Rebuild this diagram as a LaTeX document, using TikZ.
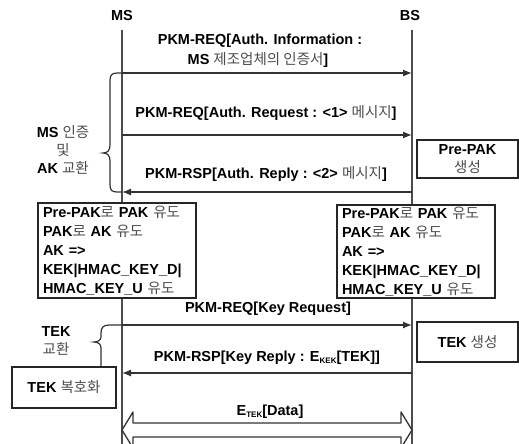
\documentclass[tikz,border=0pt]{standalone}
\usepackage{fontspec}
\setmainfont{Liberation Sans}
\newfontfamily\krfont{Noto Sans CJK KR}
\newcommand{\hg}[1]{{\krfont\mdseries\color{black!70}#1}}
\newcommand{\lowtxt}[1]{\raisebox{-1.5pt}{\fontsize{8}{8}\selectfont #1}}
\usetikzlibrary{arrows.meta}
\begin{document}
\begin{tikzpicture}[x=1pt,y=-1pt,
  font=\fontsize{14.5}{17}\selectfont\bfseries,
  life/.style={draw=black!70,line width=1.8pt},
  msg/.style={draw=black!80,line width=1.3pt,-{Latex[length=9pt,width=7pt]}},
  box/.style={draw=black!85,line width=1.5pt,fill=white},
  lbl/.style={inner sep=0pt,anchor=center},
  brace/.style={draw=black!80,line width=1.2pt}]
\useasboundingbox (0,0) rectangle (519,444);
\clip (0,0) rectangle (519,444);
% headers and lifelines
\node[lbl] (ms) at (122,16) {MS};
\node[lbl] (bs) at (410,16) {BS};
\coordinate (mstop) at (122,30);
\coordinate (msbot) at (122,444);
\coordinate (bstop) at (412,30);
\coordinate (bsbot) at (412,444);
\draw[life] (mstop) -- (msbot);
\draw[life] (bstop) -- (bsbot);
% message 1
\coordinate (a1) at (122,73); \coordinate (b1) at (412,73);
\draw[msg] (a1) -- (b1);
\node[lbl] (t1a) at (260,41) {PKM-REQ[Auth. Information :};
\node[lbl] (t1b) at (258,60) {MS \hg{제조업체의 인증서}]};
% message 2
\coordinate (a2) at (122,135); \coordinate (b2) at (412,135);
\draw[msg] (a2) -- (b2);
\node[lbl] (t2) at (266,113) {PKM-REQ[Auth. Request : <1> \hg{메시지}]};
% message 3
\coordinate (a3) at (122,192); \coordinate (b3) at (412,192);
\draw[msg] (b3) -- (a3);
\node[lbl] (t3) at (266,174) {PKM-RSP[Auth. Reply : <2> \hg{메시지}]};
% brace 1
\draw[brace] (a1) -- (117,73) .. controls (111,73) and (110,76) .. (110,81)
  -- (110,145) .. controls (110,151) and (107,153) .. (103,153)
  .. controls (107,153) and (110,155) .. (110,161)
  -- (110,185) .. controls (110,190) and (112,192) .. (117,192) -- (a3);
\node[lbl,align=center] (auth) at (63,150) {MS \hg{인증}\\[1pt]\hg{및}\\[1pt]AK \hg{교환}};
% Pre-PAK box
\node[box,minimum width=101pt,minimum height=38pt,align=center,inner sep=0pt] (prepak) at (467.5,159) {Pre-PAK\\[1pt]\hg{생성}};
% derivation boxes
\node[box,minimum width=158pt,minimum height=95pt,align=left,inner sep=0pt,text width=148pt] (lbox) at (117,250.5)
 {Pre-PAK\hg{로} PAK \hg{유도}\\[2pt]PAK\hg{로} AK \hg{유도}\\[2pt]AK =>\\[2pt]KEK|HMAC\_KEY\_D|\\[2pt]HMAC\_KEY\_U \hg{유도}};
\node[box,minimum width=158pt,minimum height=93pt,align=left,inner sep=0pt,text width=148pt] (rbox) at (416,251.5)
 {Pre-PAK\hg{로} PAK \hg{유도}\\[2pt]PAK\hg{로} AK \hg{유도}\\[2pt]AK =>\\[2pt]KEK|HMAC\_KEY\_D|\\[2pt]HMAC\_KEY\_U \hg{유도}};
% message 4
\coordinate (a4) at (122,325); \coordinate (b4) at (412,325);
\draw[msg] (a4) -- (b4);
\node[lbl] (t4) at (268,309) {PKM-REQ[Key Request]};
% TEK gen box
\node[box,minimum width=101pt,minimum height=40pt,inner sep=0pt] (tekgen) at (467.5,342) {TEK \hg{생성}};
% message 5
\coordinate (a5) at (122,373); \coordinate (b5) at (412,373);
\draw[msg] (b5) -- (a5);
\node[lbl] (t5) at (267,358) {PKM-RSP[Key Reply : E\lowtxt{KEK}[TEK]]};
% TEK decrypt box
\node[box,minimum width=104pt,minimum height=41pt,inner sep=0pt] (tekdec) at (64,387.5) {TEK \hg{복호화}};
% brace 2
\draw[brace] (a4) -- (109,325) .. controls (103,325) and (101,328) .. (101,333)
  -- (101,337) .. controls (101,340) and (98,342) .. (94,342)
  .. controls (98,342) and (101,344) .. (101,348) -- (tekdec.north -| 101,0);
\node[lbl,align=center] (tekx) at (56,341) {TEK\\[1pt]\hg{교환}};
% data double arrow
\node[lbl] (t6) at (270,412) {E\lowtxt{TEK}[Data]};
\draw[draw=black!80,line width=1.3pt,fill=white,line join=round]
  (122,430) -- (133,412) -- (133,423) -- (401,423) -- (401,412) -- (412,430)
  -- (401,448) -- (401,437) -- (133,437) -- (133,448) -- cycle;
\end{tikzpicture}
\end{document}
